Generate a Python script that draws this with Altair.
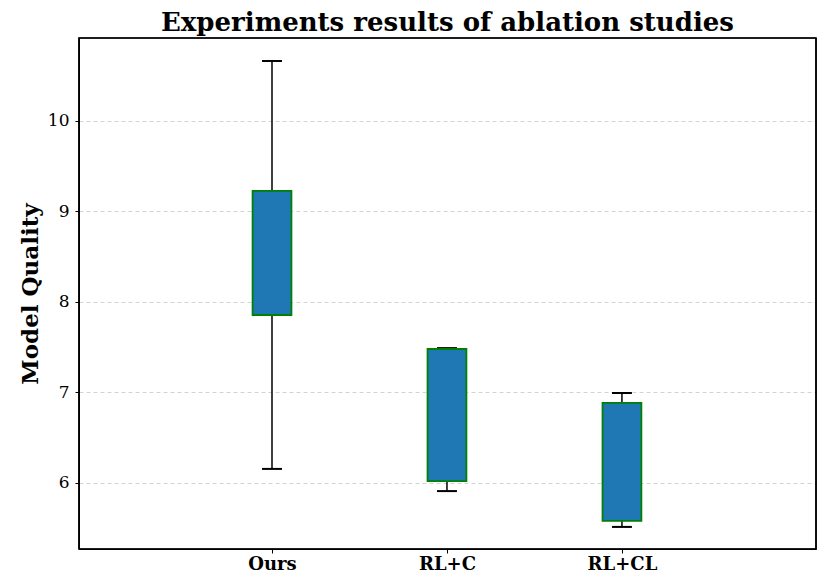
import altair as alt
import pandas as pd

categories = ["Ours", "RL+C", "RL+CL"]
positions = [1, 2, 3]
whisker_low = [6.155, 5.91, 5.514]
q1 = [7.856, 6.02, 5.58]
q3 = [9.227, 7.48, 6.884]
whisker_high = [10.663, 7.49, 6.994]

df = pd.DataFrame({
    "cat": categories,
    "pos": positions,
    "lo": whisker_low,
    "q1": q1,
    "q3": q3,
    "hi": whisker_high,
})

FONT = "DejaVu Serif"
W, H = 737, 511
xscale = alt.Scale(domain=[-0.103, 4.109], nice=False, zero=False)
yscale = alt.Scale(domain=[5.27, 10.917], nice=False, zero=False)

label_expr = "datum.value == 1 ? 'Ours' : datum.value == 2 ? 'RL+C' : datum.value == 3 ? 'RL+CL' : ''"

base = alt.Chart(df)

xenc = alt.X("pos:Q", scale=xscale,
             axis=alt.Axis(values=positions, labelExpr=label_expr, title=None, grid=False,
                           labelFont=FONT, labelFontSize=18, labelFontWeight="bold",
                           labelColor="black", tickColor="black", tickSize=4,
                           domain=True, domainColor="black", labelPadding=2))

whisk_low = base.mark_rule(color="black", strokeWidth=1.5).encode(
    x=xenc,
    y=alt.Y("lo:Q", scale=yscale),
    y2="q1:Q",
)
whisk_high = base.mark_rule(color="black", strokeWidth=1.5).encode(
    x="pos:Q",
    y="q3:Q",
    y2="hi:Q",
)

caps_lo = base.transform_calculate(a="datum.pos - 0.057", b="datum.pos + 0.057").mark_rule(
    color="black", strokeWidth=2).encode(x="a:Q", x2="b:Q", y="lo:Q")
caps_hi = base.transform_calculate(a="datum.pos - 0.057", b="datum.pos + 0.057").mark_rule(
    color="black", strokeWidth=2).encode(x="a:Q", x2="b:Q", y="hi:Q")

boxes = base.transform_calculate(a="datum.pos - 0.111", b="datum.pos + 0.111").mark_rect(
    fill="#1f77b4", stroke="#008000", strokeWidth=1.8).encode(
    x="a:Q", x2="b:Q",
    y=alt.Y("q1:Q", scale=yscale,
            axis=alt.Axis(values=[6, 7, 8, 9, 10], format="d", title="Model Quality",
                          titleFont=FONT, titleFontSize=23, titleFontWeight="bold",
                          titleColor="black", titlePadding=5,
                          labelFont=FONT, labelFontSize=17, labelColor="black",
                          tickColor="black", tickSize=4, labelPadding=6,
                          domain=True, domainColor="black",
                          grid=True, gridDash=[4, 3], gridColor="#c8c8c8", gridWidth=0.8)),
    y2="q3:Q",
)

frame = alt.Chart(df).mark_rect(fill=None, stroke="black", strokeWidth=1.2).encode(
    x=alt.value(0), x2=alt.value(W), y=alt.value(0), y2=alt.value(H))

chart = alt.layer(whisk_low, whisk_high, caps_lo, caps_hi, boxes, frame).properties(
    width=W, height=H,
    padding={"top": 2, "left": 11, "right": 5, "bottom": 5},
    title=alt.TitleParams("Experiments results of ablation studies", font=FONT,
                          fontSize=26, fontWeight="bold", color="black", offset=1),
).configure_view(stroke=None).configure(background="white")

chart.save("out.html", embed_options={"renderer": "svg", "actions": False})
